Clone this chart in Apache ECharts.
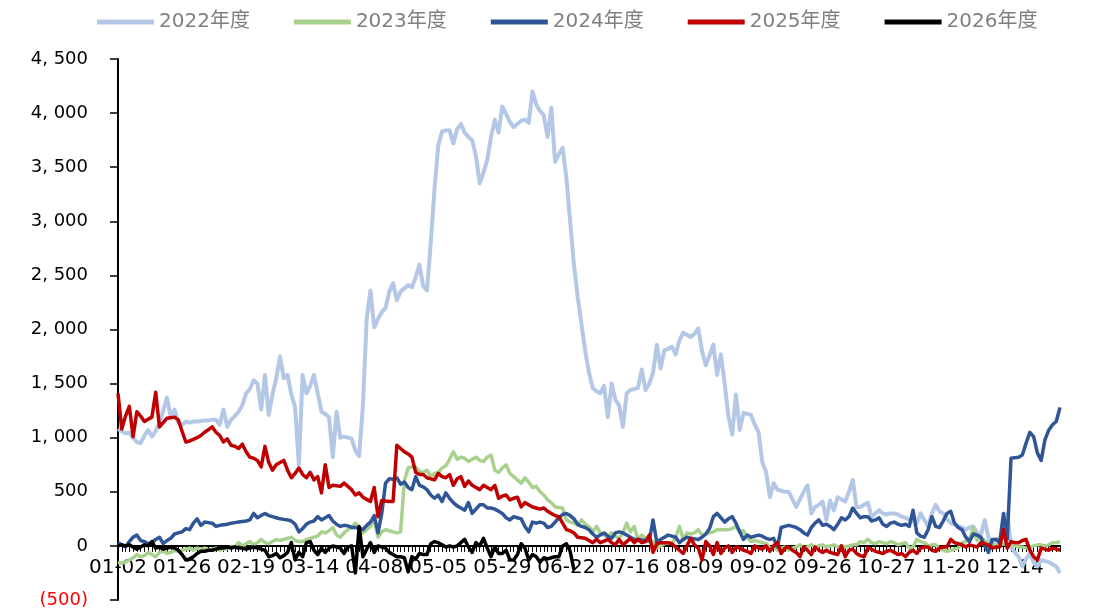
<!DOCTYPE html>
<html>
<head>
<meta charset="utf-8">
<script src="https://cdn.jsdelivr.net/npm/echarts@6/dist/echarts.min.js"></script>
<style>
  html, body { margin: 0; padding: 0; background: #fff; }
  #chart { width: 1110px; height: 610px; }
</style>
</head>
<body>
<div id="chart"></div>
<script>
// x axis: one category per day, a label every 17 days
const tickLabels = ['01-02', '01-26', '02-19', '03-14', '04-08', '05-05', '05-29', '06-22',
  '07-16', '08-09', '09-02', '09-26', '10-27', '11-20', '12-14'];
const dayCount = 251;
const labelStep = 17;
const seriesNames = ['2022年度', '2023年度', '2024年度', '2025年度', '2026年度'];

const values2022 = [
  1080, 1060, 1040, 1045, 1000, 960, 950, 1020, 1070, 1010,
  1060, 1135, 1250, 1370, 1190, 1260, 1135, 1120, 1150, 1140,
  1150, 1150, 1155, 1160, 1160, 1165, 1165, 1120, 1260, 1100,
  1165, 1200, 1240, 1300, 1410, 1450, 1530, 1500, 1260, 1580,
  1210, 1400, 1550, 1750, 1550, 1580, 1400, 1280, 750, 1580,
  1410, 1480, 1580, 1410, 1240, 1220, 1190, 820, 1240, 1000,
  1010, 1000, 990, 880, 830, 1300, 2100, 2360, 2020, 2100,
  2160, 2200, 2350, 2430, 2270, 2350, 2380, 2410, 2390, 2480,
  2600, 2400, 2360, 2800, 3300, 3700, 3830, 3840, 3840, 3720,
  3850, 3900, 3820, 3780, 3750, 3600, 3350, 3450, 3570, 3780,
  3940, 3820, 4060, 3990, 3920, 3870, 3900, 3930, 3940, 3910,
  4200, 4080, 4020, 3980, 3780, 4050, 3550, 3620, 3680, 3400,
  3000, 2600, 2300, 2050, 1800, 1600, 1460, 1430, 1410, 1480,
  1190, 1500, 1350, 1300, 1100, 1410, 1440, 1450, 1460, 1630,
  1440, 1500, 1600, 1860, 1640, 1810, 1820, 1840, 1770, 1900,
  1970, 1950, 1930, 1960, 2010, 1800, 1670, 1760, 1860, 1580,
  1770, 1500, 1200, 1030, 1400, 1070, 1230, 1220, 1210, 1120,
  1050, 770, 680, 450, 580, 520, 510, 500, 500, 430,
  360, 430, 500, 560, 300, 360, 380, 410, 240, 420,
  330, 450, 430, 410, 500, 610, 360, 360, 380, 400,
  270, 300, 330, 300, 290, 300, 300, 290, 270, 260,
  240, 230, 210, 300, 240, 180, 300, 380, 320, 300,
  250, 210, 200, 180, 170, 150, 170, 180, 120, 100,
  240, 80, 30, 60, 70, 80, 300, -10, -60, -100,
  -190, -120, -70, -150, -190, -130, -140, -150, -170, -190, -250
];

const values2023 = [
  -150, -160, -150, -130, -110, -80, -100, -90, -60, -80,
  -100, -60, -50, -70, -60, -40, -50, -40, -30, -20,
  -40, -20, -30, -20, -40, -30, -20, -40, -30, -20,
  -10, -10, 30, 0, 20, 40, 10, 30, 60, 30,
  20, 40, 60, 50, 60, 70, 80, 50, 40, 40,
  60, 70, 80, 90, 130, 120, 140, 170, 100, 80,
  120, 150, 170, 210, 170, 120, 150, 180, 250, 80,
  130, 150, 140, 130, 120, 130, 600, 720, 730, 730,
  690, 680, 700, 640, 670, 680, 720, 740, 800, 870,
  800, 820, 810, 780, 800, 820, 790, 780, 820, 840,
  700, 680, 720, 750, 670, 640, 610, 580, 630, 590,
  540, 550, 500, 470, 425, 400, 360, 355, 350, 240,
  220, 210, 190, 240, 200, 180, 130, 180, 120, 100,
  80, 120, 90, 70, 120, 210, 130, 180, 60, 100,
  70, 40, 40, -20, 0, 20, 30, 20, 80, 180,
  60, 120, 110, 120, 150, 100, 110, 120, 130, 150,
  150, 150, 150, 160, 180, 130, 140, 80, 40, 50,
  40, 30, 20, -20, -10, -40, -20, -10, -40, -20,
  -10, 10, -20, -10, 10, -10, 0, 10, -10, 0,
  10, -10, 0, -10, 0, 10, 10, 40, 30, 60,
  30, 20, 40, 30, 20, 40, 30, 10, 20, 30,
  -20, -10, 60, 40, 30, 0, 10, 10, -20, -40,
  -50, -40, -30, -20, 30, 40, 70, 170, 50, 80,
  50, 30, 20, 10, 10, 20, 10, 10, 0, -10,
  -10, -20, -10, 0, 10, 10, 0, 10, 30, 30, 40
];

const values2024 = [
  30, 10, -10, 40, 80, 100, 50, 40, 20, 30,
  60, 80, 20, 50, 70, 110, 120, 130, 160, 150,
  210, 250, 190, 220, 215, 210, 180, 190, 195, 200,
  210, 215, 220, 225, 230, 240, 300, 260, 280, 300,
  280, 270, 260, 250, 245, 240, 230, 200, 130, 160,
  200, 220, 230, 270, 240, 260, 280, 230, 200, 180,
  190, 185, 170, 170, 165, 150, 190, 220, 280, 120,
  300, 580, 620, 615, 630, 570, 590, 540, 520, 640,
  560, 545, 520, 470, 440, 470, 410, 490, 440, 400,
  370, 350, 330, 400, 300, 340, 380, 380, 350, 350,
  340, 320, 300, 260, 240, 270, 260, 250, 180, 130,
  220, 210, 220, 210, 170, 180, 220, 260, 290, 300,
  280, 250, 200, 180, 170, 150, 110, 80, 100, 120,
  90, 70, 120, 130, 120, 100, 80, 60, 60, 55,
  50, 50, 240, 30, 60, 80, 100, 90, 80, 30,
  60, 80, 70, 65, 60, 80, 110, 160, 270, 300,
  260, 220, 250, 270, 210, 130, 60, 100, 80, 90,
  100, 90, 70, 60, 70, -10, 170, 180, 190, 180,
  170, 150, 120, 100, 170, 210, 240, 190, 200, 180,
  150, 200, 260, 240, 270, 350, 300, 260, 270, 270,
  230, 240, 260, 200, 180, 210, 220, 200, 190, 200,
  180, 330, 120, 90, 80, 150, 270, 180, 170, 230,
  300, 320, 210, 170, 150, 80, 40, 110, 100, 80,
  0, -60, 60, 60, 30, 300, 60, 810, 815, 820,
  840, 950, 1050, 1010, 860, 790, 980, 1070, 1120, 1150, 1280
];

const values2025 = [
  1410, 1080, 1200, 1290, 1010, 1240, 1200, 1150, 1170, 1190,
  1420, 1100, 1140, 1180, 1185, 1190, 1165, 1060, 960, 970,
  985, 1000, 1020, 1050, 1075, 1100, 1050, 1020, 960, 990,
  930, 920, 900, 940, 870, 820, 810, 790, 730, 920,
  770, 700, 750, 770, 790, 700, 630, 670, 720, 660,
  630, 680, 610, 640, 490, 750, 540, 560, 555, 550,
  580, 550, 520, 470, 490, 450, 430, 410, 540, 270,
  420, 415, 410, 410, 930, 900, 870, 850, 820, 680,
  660, 660, 630, 620, 610, 670, 640, 630, 660, 560,
  620, 640, 550, 600, 560, 540, 520, 560, 540, 520,
  560, 440, 460, 470, 425, 440, 450, 360, 400, 380,
  360, 350, 340, 350, 320, 300, 280, 270, 210, 150,
  140, 120, 80, 75, 70, 50, 30, 60, 30, 45,
  60, 30, 10, 60, 10, 40, 70, 30, 60, 30,
  40, 100, -60, 20, 30, 30, 30, 20, -10, -40,
  -70, 0, 70, 10, -20, -130, 40, 0, -80, 30,
  -70, -20, 0, -60, -10, -20, -40, -50, -70, 0,
  -20, -30, 0, -50, 0, 30, -70, -20, -10, -40,
  -60, -100, -10, -40, -80, -10, -40, -60, -40, -60,
  -70, -80, 0, -100, -40, -30, -70, -90, -100, -20,
  -30, -50, -60, -70, -50, -40, -60, -80, -70, -100,
  -60, -40, -70, -20, -10, -10, -40, -50, -20, -10,
  -10, 60, 30, 20, 10, -10, 10, 0, -10, 30,
  20, 10, -20, -10, -10, 150, -20, 40, 30, 30,
  50, 60, -40, -100, -130, -20, -30, -40, -20, -30, -40
];

const values2026 = [
  0, 10, 0, 10, -10, -30, -10, 10, 0, 40,
  -20, -10, -30, -20, -10, -20, -40, -80, -130, -120,
  -100, -70, -50, -50, -40, -40, -30, -20, -20, -10,
  -20, -10, -20, -20, -30, -20, -10, -20, -30, -40,
  -100, -90, -70, -110, -90, -60, 30, -130, -60, -100,
  30, 40, -40, -80, -20, -60, -20, 0, -10, -20,
  -70, -10, 0, -250, 180, -100, -30, 30, -60, 0,
  -10, -20, -60, -80, -100, -100, -110, -240, -100, -120,
  -70, -80, -80, 20, 40, 30, 10, -10, 0, -10,
  0, 30, 60, -10, -60, 30, 0, 70, -20, -100,
  -10, -70, -70, -40, -130, -130, -80, 20, -20, -130,
  -80, -100, -150, -110, -120, -110, -100, -100, 0, 20, -50, -220
];

const seriesValues = [values2022, values2023, values2024, values2025, values2026];
const seriesColors = ['#B4C7E7', '#A9D18E', '#2F5597', '#C00000', '#000000'];
const seriesWidths = [4, 3.5, 3.5, 3.5, 3.5];

// category keys: the labelled days carry their date, the others a plain key
const days = Array.from({ length: dayCount }, (_, i) =>
  i % labelStep === 0 && tickLabels[i / labelStep] ? tickLabels[i / labelStep] : 'd' + i);

// thousands separated the way the source chart prints them: "4, 500"
function thousands(v) {
  return v.toLocaleString('en-US').replace(',', ', ');
}

const fontFamily = 'DejaVu Sans, sans-serif';
const chart = echarts.init(document.getElementById('chart'));

chart.setOption({
  animation: false,
  backgroundColor: '#fff',
  legend: {
    top: 7,
    left: 92,
    icon: 'rect',
    itemWidth: 57,
    itemHeight: 5,
    itemGap: 44,
    textStyle: {
      color: '#808080',
      fontSize: 20,
      fontFamily: 'DejaVu Sans, Noto Sans CJK SC, sans-serif'
    },
    data: seriesNames
  },
  grid: {
    left: 118,
    right: 50,
    top: 59,
    bottom: 10,
    outerBoundsMode: 'none'
  },
  xAxis: [
    {
      // axis line and ticks sitting on zero
      type: 'category',
      data: days,
      boundaryGap: false,
      axisLine: { onZero: true, lineStyle: { color: '#000', width: 2 } },
      axisTick: { interval: 0, length: 6, lineStyle: { color: '#000', width: 1 } },
      axisLabel: { show: false }
    },
    {
      // date labels, lifted up to the zero line
      type: 'category',
      data: days,
      position: 'bottom',
      offset: -54,
      boundaryGap: false,
      axisLine: { show: false, onZero: false },
      axisTick: { show: false },
      axisLabel: {
        interval: labelStep - 1,
        hideOverlap: false,
        margin: 12,
        color: '#000',
        fontSize: 20,
        fontFamily: fontFamily
      }
    }
  ],
  yAxis: {
    type: 'value',
    min: -500,
    max: 4500,
    interval: 500,
    splitLine: { show: false },
    axisLine: { show: true, lineStyle: { color: '#000', width: 2 } },
    axisTick: { show: true, length: 8, lineStyle: { color: '#000', width: 1.5 } },
    axisLabel: {
      margin: 30,
      color: '#000',
      fontSize: 18,
      fontFamily: fontFamily,
      formatter: (v) => (v < 0 ? '{neg|(' + thousands(-v) + ')}' : thousands(v)),
      rich: {
        neg: { color: '#ff0000', fontSize: 18, fontFamily: fontFamily }
      }
    }
  },
  series: seriesNames.map((name, k) => ({
    name: name,
    type: 'line',
    xAxisIndex: 0,
    data: seriesValues[k],
    showSymbol: false,
    symbol: 'none',
    color: seriesColors[k],
    lineStyle: { color: seriesColors[k], width: seriesWidths[k], join: 'round' }
  }))
});
</script>
</body>
</html>
